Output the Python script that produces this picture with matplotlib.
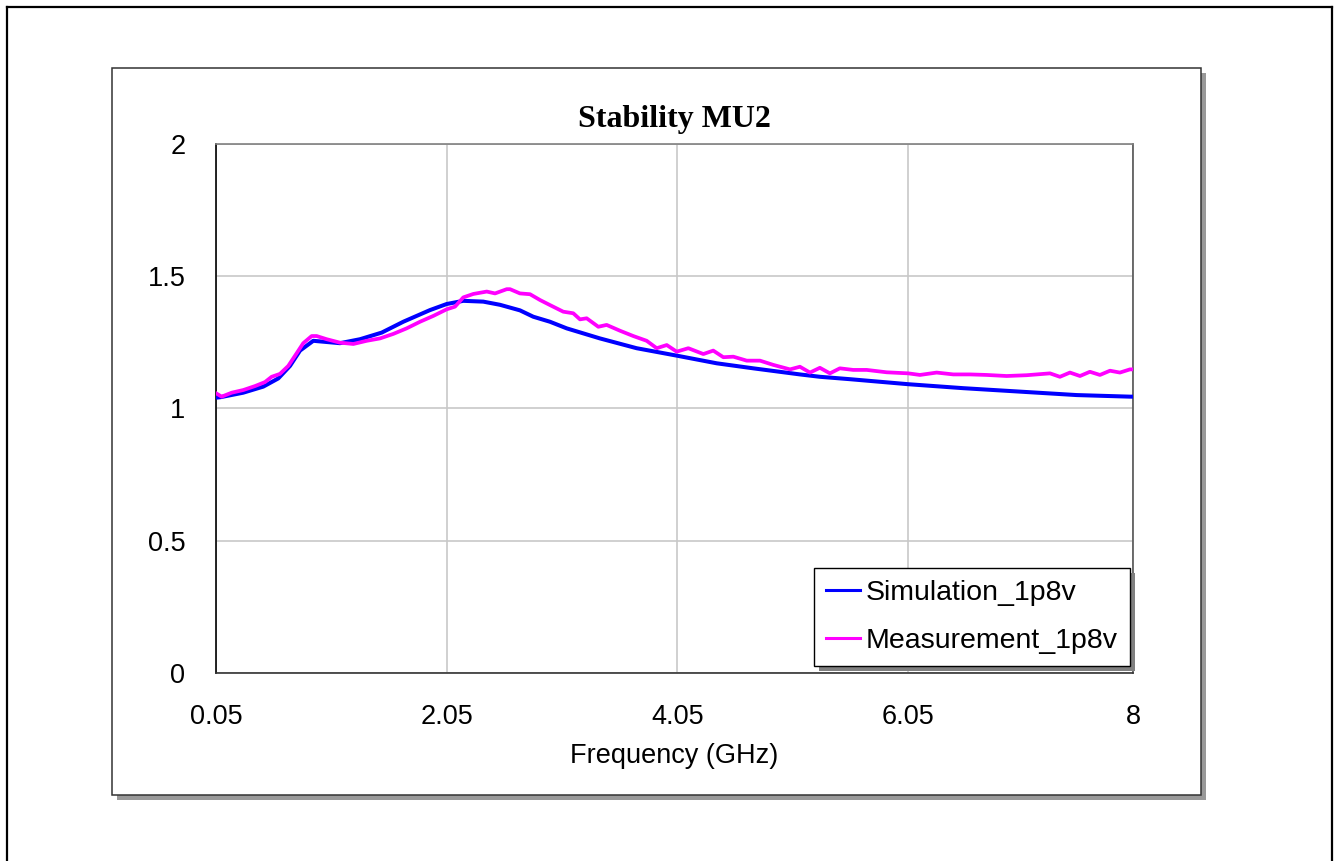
import matplotlib

matplotlib.use("Agg")
import matplotlib.pyplot as plt
from matplotlib.lines import Line2D
from matplotlib.patches import Rectangle

W, H = 1336, 861

# values
sim_freq = [0.05, 0.09, 0.287, 0.461, 0.591, 0.692, 0.779, 0.894, 1.125, 1.299, 1.487,
            1.674, 1.905, 2.05, 2.194, 2.367, 2.512, 2.685, 2.80, 2.945, 3.09, 3.378,
            3.696, 4.043, 4.39, 4.707, 5.111, 5.285, 5.544, 6.05, 6.527, 7.018, 7.509,
            7.971, 8.0]
sim_mu2 = [1.040, 1.042, 1.059, 1.082, 1.113, 1.160, 1.218, 1.255, 1.246, 1.261, 1.286,
           1.327, 1.371, 1.394, 1.406, 1.403, 1.391, 1.370, 1.346, 1.327, 1.302, 1.264,
           1.227, 1.199, 1.170, 1.151, 1.128, 1.119, 1.110, 1.091, 1.076, 1.063, 1.050,
           1.044, 1.044]

meas_freq = [0.05, 0.10, 0.187, 0.287, 0.389, 0.475, 0.533, 0.605, 0.677, 0.75, 0.807,
             0.88, 0.923, 1.01, 1.125, 1.241, 1.357, 1.472, 1.587, 1.703, 1.819, 1.934,
             2.05, 2.122, 2.194, 2.281, 2.397, 2.469, 2.57, 2.599, 2.685, 2.772, 2.859,
             2.945, 3.06, 3.147, 3.205, 3.263, 3.364, 3.436, 3.552, 3.667, 3.783, 3.87,
             3.957, 4.043, 4.144, 4.274, 4.36, 4.447, 4.534, 4.65, 4.765, 4.88, 5.025,
             5.111, 5.198, 5.284, 5.371, 5.457, 5.573, 5.69, 5.863, 6.05, 6.151, 6.296,
             6.44, 6.585, 6.729, 6.902, 7.076, 7.278, 7.364, 7.451, 7.538, 7.624, 7.711,
             7.798, 7.884, 7.971, 8.0]
meas_mu2 = [1.057, 1.044, 1.059, 1.069, 1.084, 1.099, 1.119, 1.130, 1.160, 1.208, 1.246,
            1.273, 1.273, 1.261, 1.248, 1.243, 1.255, 1.264, 1.281, 1.302, 1.327, 1.349,
            1.374, 1.384, 1.419, 1.432, 1.441, 1.434, 1.450, 1.450, 1.434, 1.431, 1.409,
            1.390, 1.365, 1.359, 1.336, 1.340, 1.308, 1.315, 1.293, 1.273, 1.255, 1.227,
            1.239, 1.214, 1.227, 1.205, 1.218, 1.193, 1.195, 1.180, 1.180, 1.164, 1.147,
            1.157, 1.135, 1.153, 1.132, 1.151, 1.145, 1.145, 1.136, 1.132, 1.126, 1.135,
            1.128, 1.128, 1.126, 1.122, 1.125, 1.132, 1.119, 1.135, 1.122, 1.138, 1.126,
            1.142, 1.135, 1.147, 1.147]

x_ticks = [0.05, 2.05, 4.05, 6.05, 8]
x_ticklabels = ["0.05", "2.05", "4.05", "6.05", "8"]
y_ticks = [0, 0.5, 1, 1.5, 2]
y_ticklabels = ["0", "0.5", "1", "1.5", "2"]
series_labels = ["Simulation_1p8v", "Measurement_1p8v"]


def fx(px):
    return px / W


def fy(py):
    return 1 - py / H


fig = plt.figure(figsize=(W / 100, H / 100), dpi=100)

# outer page border (left, top, right)
for xs, ys in [([7, 7], [7, H]), ([7, 1332], [7, 7]), ([1332, 1332], [7, H])]:
    fig.add_artist(Line2D([fx(v) for v in xs], [fy(v) for v in ys], color="black", lw=1.6))

# chart box with shadow
fig.add_artist(Rectangle((fx(117), fy(800)), fx(1206) - fx(117), fy(73) - fy(800),
                         facecolor="#999999", edgecolor="none", zorder=0))
fig.add_artist(Rectangle((fx(112), fy(795)), fx(1201) - fx(112), fy(68) - fy(795),
                         facecolor="white", edgecolor="#333333", lw=1.1, zorder=0.5))

ax = fig.add_axes([fx(215.9), fy(673), fx(1133.3) - fx(215.9), fy(143.6) - fy(673)])
ax.set_facecolor("none")
ax.set_zorder(2)

ax.plot(sim_freq, sim_mu2, color="#0000FF", lw=2.9, label=series_labels[0], zorder=3)
ax.plot(meas_freq, meas_mu2, color="#FF00FF", lw=2.7, label=series_labels[1], zorder=3)

ax.set_xlim(0.05, 8)
ax.set_ylim(0, 2)
ax.set_xticks(x_ticks, labels=x_ticklabels)
ax.set_yticks(y_ticks, labels=y_ticklabels)
ax.tick_params(length=0, labelsize=19.5)
ax.tick_params(axis="y", pad=22)
ax.tick_params(axis="x", pad=22)
for lab in ax.get_xticklabels() + ax.get_yticklabels():
    lab.set_family("Liberation Sans")
ax.grid(True, color="#C8C8C8", lw=1.2)
ax.set_axisbelow(True)

ax.spines["left"].set_color("black")
ax.spines["bottom"].set_color("#333333")
ax.spines["top"].set_color("#808080")
ax.spines["right"].set_color("#555555")
for s in ax.spines.values():
    s.set_linewidth(1.2)

ax.set_xlabel("Frequency (GHz)", fontsize=19.5, family="Liberation Sans", labelpad=10)
fig.text(fx(674), fy(120), "Stability MU2", ha="center", va="center",
         fontsize=23, fontweight="bold", family="Liberation Serif")

leg = ax.legend(loc="lower right", bbox_to_anchor=(fx(1130), fy(666)),
                bbox_transform=fig.transFigure, fancybox=False, framealpha=1,
                edgecolor="black", prop={"family": "Liberation Sans", "size": 20.5},
                handlelength=1.2, handletextpad=0.2, borderpad=0.42,
                labelspacing=0.78, borderaxespad=0)
leg.get_frame().set_linewidth(1.0)
for h in leg.get_lines():
    h.set_linewidth(2.2)
leg.set_zorder(6)

fig.canvas.draw()
bb = leg.get_window_extent()
ax.add_artist(Rectangle((bb.x0 + 5, bb.y0 - 5), bb.width, bb.height, transform=None,
                        facecolor="#808080", edgecolor="none", zorder=5, clip_on=False))

fig.savefig("out.png", dpi=100, facecolor="white")
